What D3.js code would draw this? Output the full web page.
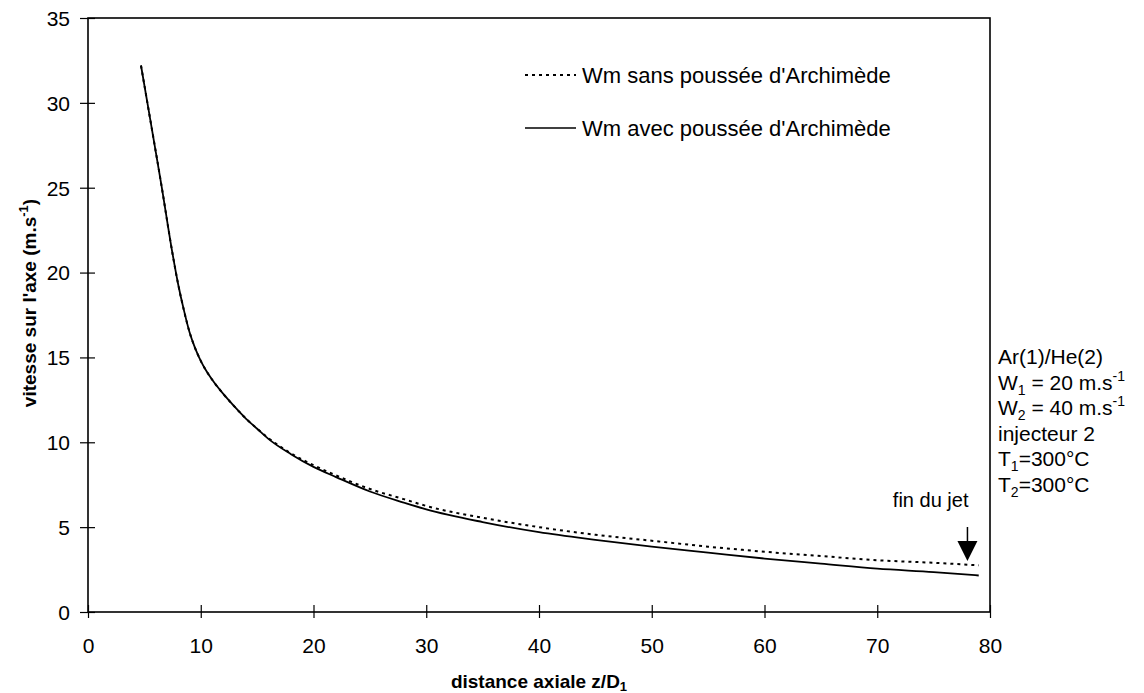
<!DOCTYPE html>
<html>
<head>
<meta charset="utf-8">
<script src="https://cdn.jsdelivr.net/npm/d3@7"></script>
<style>
  body { margin: 0; background: #fff; }
  text { font-family: Arial, "Liberation Sans", sans-serif; fill: #000; }
</style>
</head>
<body>
<div id="chart"></div>
<script>
// axial distance z/D1
var zVals = [4.7, 5.5, 6.5, 7.5, 8, 8.5, 9, 9.5, 10, 10.5, 11, 12, 13, 14, 15, 16, 18, 20, 22, 25, 28, 30, 35, 40, 45, 50, 55, 60, 65, 70, 75, 79]
// Wm avec poussée d'Archimède (solid)
var wmAvec = [32.2, 29.1, 25.2, 21.1, 19.3, 17.8, 16.5, 15.55, 14.8, 14.2, 13.7, 12.85, 12.1, 11.4, 10.8, 10.2, 9.3, 8.55, 7.95, 7.1, 6.45, 6.05, 5.3, 4.7, 4.25, 3.85, 3.5, 3.15, 2.85, 2.55, 2.35, 2.15]
// Wm sans poussée d'Archimède (dotted)
var wmSans = [32.2, 29.1, 25.2, 21.1, 19.3, 17.8, 16.5, 15.55, 14.8, 14.2, 13.7, 12.85, 12.1, 11.4, 10.8, 10.25, 9.35, 8.65, 8.05, 7.25, 6.65, 6.25, 5.55, 5.0, 4.55, 4.2, 3.85, 3.55, 3.3, 3.05, 2.9, 2.75]

var xTicks = [0, 10, 20, 30, 40, 50, 60, 70, 80]
var yTicks = [0, 5, 10, 15, 20, 25, 30, 35]
var legendLabels = ["Wm sans poussée d'Archimède", "Wm avec poussée d'Archimède"]
var finDuJet = 78

var W = 1144, H = 693
var plot = {left: 88, right: 990, top: 18, bottom: 612}

var svg = d3.select("#chart").append("svg")
    .attr("width", W).attr("height", H)

var x = d3.scaleLinear().domain([0, 80]).range([plot.left, plot.right])
var y = d3.scaleLinear().domain([0, 35]).range([plot.bottom, plot.top])

// frame
svg.append("rect")
    .attr("x", plot.left).attr("y", plot.top)
    .attr("width", plot.right - plot.left).attr("height", plot.bottom - plot.top)
    .style("fill", "none").style("stroke", "#000").style("stroke-width", 1.6)

// y axis
var yAxis = svg.append("g")
    .attr("transform", "translate(" + plot.left + ",0)")
    .call(d3.axisLeft(y).tickValues(yTicks).tickSize(8).tickPadding(10))
yAxis.select(".domain").remove()
yAxis.selectAll(".tick line").attr("x1", 7).attr("x2", -8).style("stroke-width", 1.2)
yAxis.selectAll(".tick text").style("font-size", "21px").attr("x", -18).attr("dy", "0.35em")

// x axis
var xAxis = svg.append("g")
    .attr("transform", "translate(0," + plot.bottom + ")")
    .call(d3.axisBottom(x).tickValues(xTicks).tickSize(6))
xAxis.select(".domain").remove()
xAxis.selectAll(".tick line").attr("y1", -7).attr("y2", 6).style("stroke-width", 1.2)
xAxis.selectAll(".tick text").style("font-size", "21px").attr("y", 41).attr("dy", 0)

// axis titles
var xt = svg.append("text")
    .attr("x", (plot.left + plot.right) / 2).attr("y", 688)
    .attr("text-anchor", "middle")
    .style("font-size", "19px").style("font-weight", "bold")
xt.append("tspan").text("distance axiale z/D")
xt.append("tspan").text("1").style("font-size", "13px").attr("dy", 3)

var yt = svg.append("text")
    .attr("transform", "translate(36,303) rotate(-90)")
    .attr("text-anchor", "middle")
    .style("font-size", "19px").style("font-weight", "bold")
yt.append("tspan").text("vitesse sur l'axe (m.s")
yt.append("tspan").text("-1").style("font-size", "13px").attr("dy", -8)
yt.append("tspan").text(")").attr("dy", 8)

// curves
var rows = zVals.map(function(z, i) { return {z: z, avec: wmAvec[i], sans: wmSans[i]} })

var lineSans = d3.line().curve(d3.curveMonotoneX)
    .x(function(d) { return x(d.z) }).y(function(d) { return y(d.sans) })
var lineAvec = d3.line().curve(d3.curveMonotoneX)
    .x(function(d) { return x(d.z) }).y(function(d) { return y(d.avec) })

svg.append("path").datum(rows).attr("d", lineSans)
    .style("fill", "none").style("stroke", "#000").style("stroke-width", 2)
    .style("stroke-dasharray", "3,4")
svg.append("path").datum(rows).attr("d", lineAvec)
    .style("fill", "none").style("stroke", "#000").style("stroke-width", 1.8)

// legend
var legend = svg.append("g")
legendLabels.forEach(function(lab, i) {
    var ly = 75 + i * 53
    legend.append("line")
        .attr("x1", 525).attr("x2", 576).attr("y1", ly).attr("y2", ly)
        .style("stroke", "#000").style("stroke-width", i == 0 ? 2 : 1.6)
        .style("stroke-dasharray", i == 0 ? "3,4" : null)
    legend.append("text")
        .attr("x", 582).attr("y", ly + 8)
        .style("font-size", "22px")
        .text(lab)
})

// "fin du jet" arrow
var ax = x(finDuJet)
svg.append("text").attr("x", ax + 1).attr("y", 507)
    .attr("text-anchor", "end").style("font-size", "20px").text("fin du jet")
svg.append("line").attr("x1", ax).attr("x2", ax).attr("y1", 527).attr("y2", 542)
    .style("stroke", "#000").style("stroke-width", 1.5)
svg.append("path")
    .attr("d", "M" + (ax - 10) + ",541 L" + (ax + 10) + ",541 L" + ax + ",561 Z")
    .style("fill", "#000")

// conditions text
var notes = [
    [["Ar(1)/He(2)"]],
    [["W"], ["1", "sub"], [" = 20 m.s"], ["-1", "sup"]],
    [["W"], ["2", "sub"], [" = 40 m.s"], ["-1", "sup"]],
    [["injecteur 2"]],
    [["T"], ["1", "sub"], ["=300°C"]],
    [["T"], ["2", "sub"], ["=300°C"]]
]
notes.forEach(function(parts, i) {
    var t = svg.append("text").attr("x", 998).attr("y", 364 + i * 25.6)
        .style("font-size", "21px")
    var shift = 0
    parts.forEach(function(p) {
        var s = t.append("tspan").text(p[0])
        var target = p[1] == "sub" ? 5 : p[1] == "sup" ? -9 : 0
        if (p[1]) s.style("font-size", "14px")
        if (target != shift) { s.attr("dy", target - shift); shift = target }
    })
})
</script>
</body>
</html>
